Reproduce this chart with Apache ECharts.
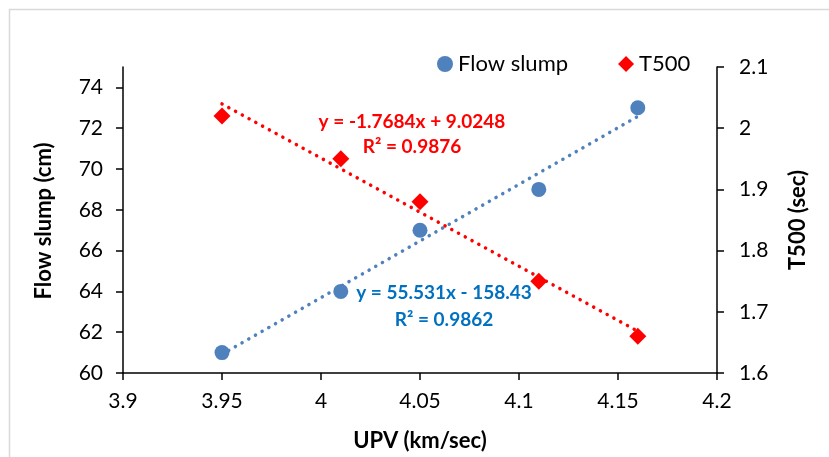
<!DOCTYPE html>
<html>
<head>
<meta charset="utf-8">
<script src="https://cdn.jsdelivr.net/npm/echarts@6/dist/echarts.min.js"></script>
<style>
html,body{margin:0;padding:0;background:#fff;}
#chart{width:829px;height:457px;}
</style>
</head>
<body>
<div id="chart"></div>
<script>
// ---- data ----
var upv = [3.95, 4.01, 4.05, 4.11, 4.16];
var flowSlump = [61, 64, 67, 69, 73];
var t500 = [2.02, 1.95, 1.88, 1.75, 1.66];
var flowFit = [55.531, -158.43];   // slope, intercept
var t500Fit = [-1.7684, 9.0248];
var flowEq = ['y = 55.531x - 158.43', 'R² = 0.9862'];
var t500Eq = ['y = -1.7684x + 9.0248', 'R² = 0.9876'];
var leftTicks = [60, 62, 64, 66, 68, 70, 72, 74];
var leftTitle = 'Flow slump (cm)';

var xMin = Math.min.apply(null, upv), xMax = Math.max.apply(null, upv);
function fitLine(c){ return [[xMin, c[0]*xMin + c[1]], [xMax, c[0]*xMax + c[1]]]; }

var FONT = 'Lato';
var chart = echarts.init(document.getElementById('chart'));
var axisLine = {show:true, lineStyle:{color:'#000', width:1.5}};
var axisTick = {show:true, length:7, lineStyle:{color:'#000', width:1.5}};
var labelStyle = {color:'#000', fontFamily:FONT, fontSize:21};
var nameStyle = {color:'#000', fontFamily:FONT, fontSize:22, fontWeight:'bold'};

chart.setOption({
  animation:false,
  backgroundColor:'#fff',
  grid:{left:123, right:112, top:67, bottom:84},
  legend:{
    left:432, top:48, itemGap:50, itemWidth:16, itemHeight:16,
    textStyle:{color:'#000', fontFamily:FONT, fontSize:22},
    data:[{name:'Flow slump', icon:'circle'}, {name:'T500', icon:'diamond'}]
  },
  xAxis:{
    type:'value', min:3.9, max:4.2, interval:0.05,
    axisLine:axisLine, axisTick:axisTick, splitLine:{show:false},
    axisLabel:Object.assign({margin:18}, labelStyle),
    name:'UPV (km/sec)', nameLocation:'middle', nameGap:57, nameTextStyle:nameStyle
  },
  yAxis:[{
    type:'value', min:60, max:75, interval:2,
    axisLine:axisLine, splitLine:{show:false},
    axisTick:Object.assign({customValues:leftTicks}, axisTick),
    axisLabel:Object.assign({margin:20, customValues:leftTicks}, labelStyle)
  },{
    type:'value', min:1.6, max:2.1, interval:0.1,
    axisLine:axisLine, axisTick:axisTick, splitLine:{show:false},
    axisLabel:Object.assign({margin:22}, labelStyle),
    name:'T500 (sec)', nameLocation:'middle', nameGap:70, nameTextStyle:nameStyle
  }],
  series:[
    {name:'Flow slump', type:'scatter', yAxisIndex:0, symbol:'circle', symbolSize:15,
     itemStyle:{color:'#4F81BD', opacity:1}, data:upv.map(function(x,i){return [x, flowSlump[i]];}), z:3},
    {name:'T500', type:'scatter', yAxisIndex:1, symbol:'diamond', symbolSize:17,
     itemStyle:{color:'#FF0000', opacity:1}, data:upv.map(function(x,i){return [x, t500[i]];}), z:3},
    {name:'flowTrend', type:'line', yAxisIndex:0, showSymbol:false, silent:true,
     lineStyle:{color:'#4F81BD', width:3.5, type:[0.1, 7.6], cap:'round'}, data:fitLine(flowFit), z:4},
    {name:'t500Trend', type:'line', yAxisIndex:1, showSymbol:false, silent:true,
     lineStyle:{color:'#FF0000', width:3.5, type:[0.1, 7.6], cap:'round'}, data:fitLine(t500Fit), z:4}
  ],
  graphic:[
    {type:'rect', shape:{x:9.5, y:9.5, width:1000, height:1000}, style:{fill:null, stroke:'#D9D9D9', lineWidth:1.5}, silent:true, z:-1},
    {type:'text', x:44, y:221, rotation:Math.PI/2, style:{text:leftTitle, fill:'#000', font:'bold 22px Lato', align:'center', verticalAlign:'middle'}},
    {type:'text', x:412, y:122, style:{text:t500Eq[0], fill:'#FF0000', font:'bold 19px Lato', align:'center', verticalAlign:'middle'}},
    {type:'text', x:412, y:147, style:{text:t500Eq[1], fill:'#FF0000', font:'bold 19px Lato', align:'center', verticalAlign:'middle'}},
    {type:'text', x:444, y:293, style:{text:flowEq[0], fill:'#0070C0', font:'bold 19px Lato', align:'center', verticalAlign:'middle'}},
    {type:'text', x:444, y:320, style:{text:flowEq[1], fill:'#0070C0', font:'bold 19px Lato', align:'center', verticalAlign:'middle'}}
  ]
});
</script>
</body>
</html>
